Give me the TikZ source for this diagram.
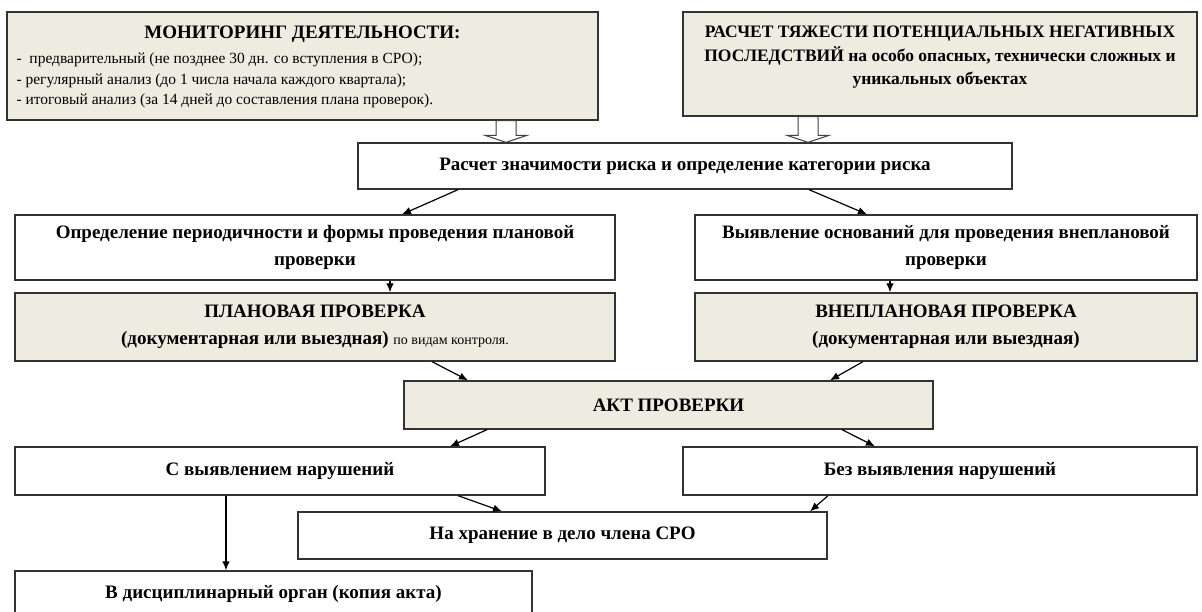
\documentclass[tikz,border=0pt]{standalone}
\usepackage{fontspec}
\setmainfont{Liberation Serif}
\usetikzlibrary{arrows.meta}
\definecolor{boxtan}{HTML}{EEECE1}

\begin{document}
\begin{tikzpicture}[x=1pt,y=-1pt,
    box/.style={draw=black!80, line width=1.3pt, fill=white, align=center, inner sep=0pt,
      font=\fontsize{19}{27}\selectfont\bfseries},
    tanbox/.style={box, fill=boxtan},
    txt/.style={inner sep=0pt},
    arr/.style={line width=1.2pt, -{Latex[length=9pt,width=7.5pt]}},
    hollow/.style={draw=black!75, line width=1pt, fill=white}]
  \useasboundingbox (0,0) rectangle (1202,612);
  % upper row
  \node[tanbox, minimum width=591pt, minimum height=108pt] (mon)   at (302.5,66) {};
  \node[tanbox, minimum width=514pt, minimum height=104pt] (tyazh) at (940,64)   {};
  \node[txt, anchor=base, font=\fontsize{19}{20}\selectfont\bfseries] (montitle)
    at ([yshift=-27.5pt]mon.north) {МОНИТОРИНГ ДЕЯТЕЛЬНОСТИ:};
  \node[txt, anchor=north west, align=left, font=\fontsize{15.5}{20.5}\selectfont] (monlist)
    at ([xshift=10pt,yshift=-41.5pt]mon.north west)
    {-\ \ предварительный (не позднее 30 дн. со вступления в СРО);\\
     - регулярный анализ (до 1 числа начала каждого квартала);\\
     - итоговый анализ (за 14 дней до составления плана проверок).};
  \node[txt, anchor=north, align=center, font=\fontsize{17.5}{23.5}\selectfont\bfseries] (tyazhtext)
    at ([yshift=-14.5pt]tyazh.north)
    {РАСЧЕТ ТЯЖЕСТИ ПОТЕНЦИАЛЬНЫХ НЕГАТИВНЫХ\\
     ПОСЛЕДСТВИЙ на особо опасных, технически сложных и\\
     уникальных объектах};
  % boxes
  \node[box,    minimum width=654pt, minimum height=46pt] (risk)   at (685,166)     {Расчет значимости риска и определение категории риска};
  \node[box,    minimum width=600pt, minimum height=65pt] (pdef)   at (315,247.5)   {Определение периодичности и формы проведения плановой\\проверки};
  \node[box,    minimum width=502pt, minimum height=65pt] (vdef)   at (946,247.5)   {Выявление оснований для проведения внеплановой\\проверки};
  \node[tanbox, minimum width=600pt, minimum height=68pt] (pcheck) at (315,327)     {ПЛАНОВАЯ ПРОВЕРКА\\(документарная или выездная) {\mdseries\fontsize{14}{27}\selectfont по видам контроля.}};
  \node[tanbox, minimum width=502pt, minimum height=68pt] (vcheck) at (946,327)     {ВНЕПЛАНОВАЯ ПРОВЕРКА\\(документарная или выездная)};
  \node[tanbox, minimum width=529pt, minimum height=48pt] (act)    at (668.5,405)   {АКТ ПРОВЕРКИ};
  \node[box,    minimum width=530pt, minimum height=48pt] (svyav)  at (280,471)     {С выявлением нарушений};
  \node[box,    minimum width=514pt, minimum height=48pt] (bez)    at (940,471)     {Без выявления нарушений};
  \node[box,    minimum width=529pt, minimum height=47pt] (hran)   at (562.5,535.5) {На хранение в дело члена СРО};
  \node[box,    minimum width=517pt, minimum height=46pt] (disc)   at (273.5,594)   {В дисциплинарный орган (копия акта)};
  % hollow arrows into the risk box
  \coordinate (hl) at ([xshift=-179pt]risk.north);
  \coordinate (hr) at ([xshift=123pt]risk.north);
  \draw[hollow] (hl) -- ++(-21,-7) -- ++(11,0) -- ([xshift=-10pt]hl |- mon.south)
    -- ([xshift=10pt]hl |- mon.south) -- ([xshift=10pt,yshift=7pt]hl) -- ++(11,0) -- cycle;
  \draw[hollow] (hr) -- ++(-21,-7) -- ++(11,0) -- ([xshift=-10pt]hr |- tyazh.south)
    -- ([xshift=10pt]hr |- tyazh.south) -- ([xshift=10pt,yshift=7pt]hr) -- ++(11,0) -- cycle;
  % connectors
  \draw[arr] ([xshift=-227pt]risk.south)   -- ([xshift=87pt]pdef.north);
  \draw[arr] ([xshift=124pt]risk.south)    -- ([xshift=-79pt]vdef.north);
  \draw[arr] ([xshift=75pt]pdef.south)     -- ([xshift=75pt]pcheck.north);
  \draw[arr] ([xshift=-56pt]vdef.south)    -- ([xshift=-56pt]vcheck.north);
  \draw[arr] ([xshift=117pt]pcheck.south)  -- ([xshift=-200.5pt]act.north);
  \draw[arr] ([xshift=-83pt]vcheck.south)  -- ([xshift=161.5pt]act.north);
  \draw[arr] ([xshift=-181.5pt]act.south)  -- ([xshift=170pt]svyav.north);
  \draw[arr] ([xshift=173.5pt]act.south)   -- ([xshift=-65pt]bez.north);
  \draw[arr] ([xshift=178pt]svyav.south)   -- ([xshift=-60.5pt]hran.north);
  \draw[arr] ([xshift=-112pt]bez.south)    -- ([xshift=247.5pt]hran.north);
  \draw[arr] ([xshift=-54pt]svyav.south)   -- ([xshift=-47.5pt]disc.north);
\end{tikzpicture}
\end{document}
